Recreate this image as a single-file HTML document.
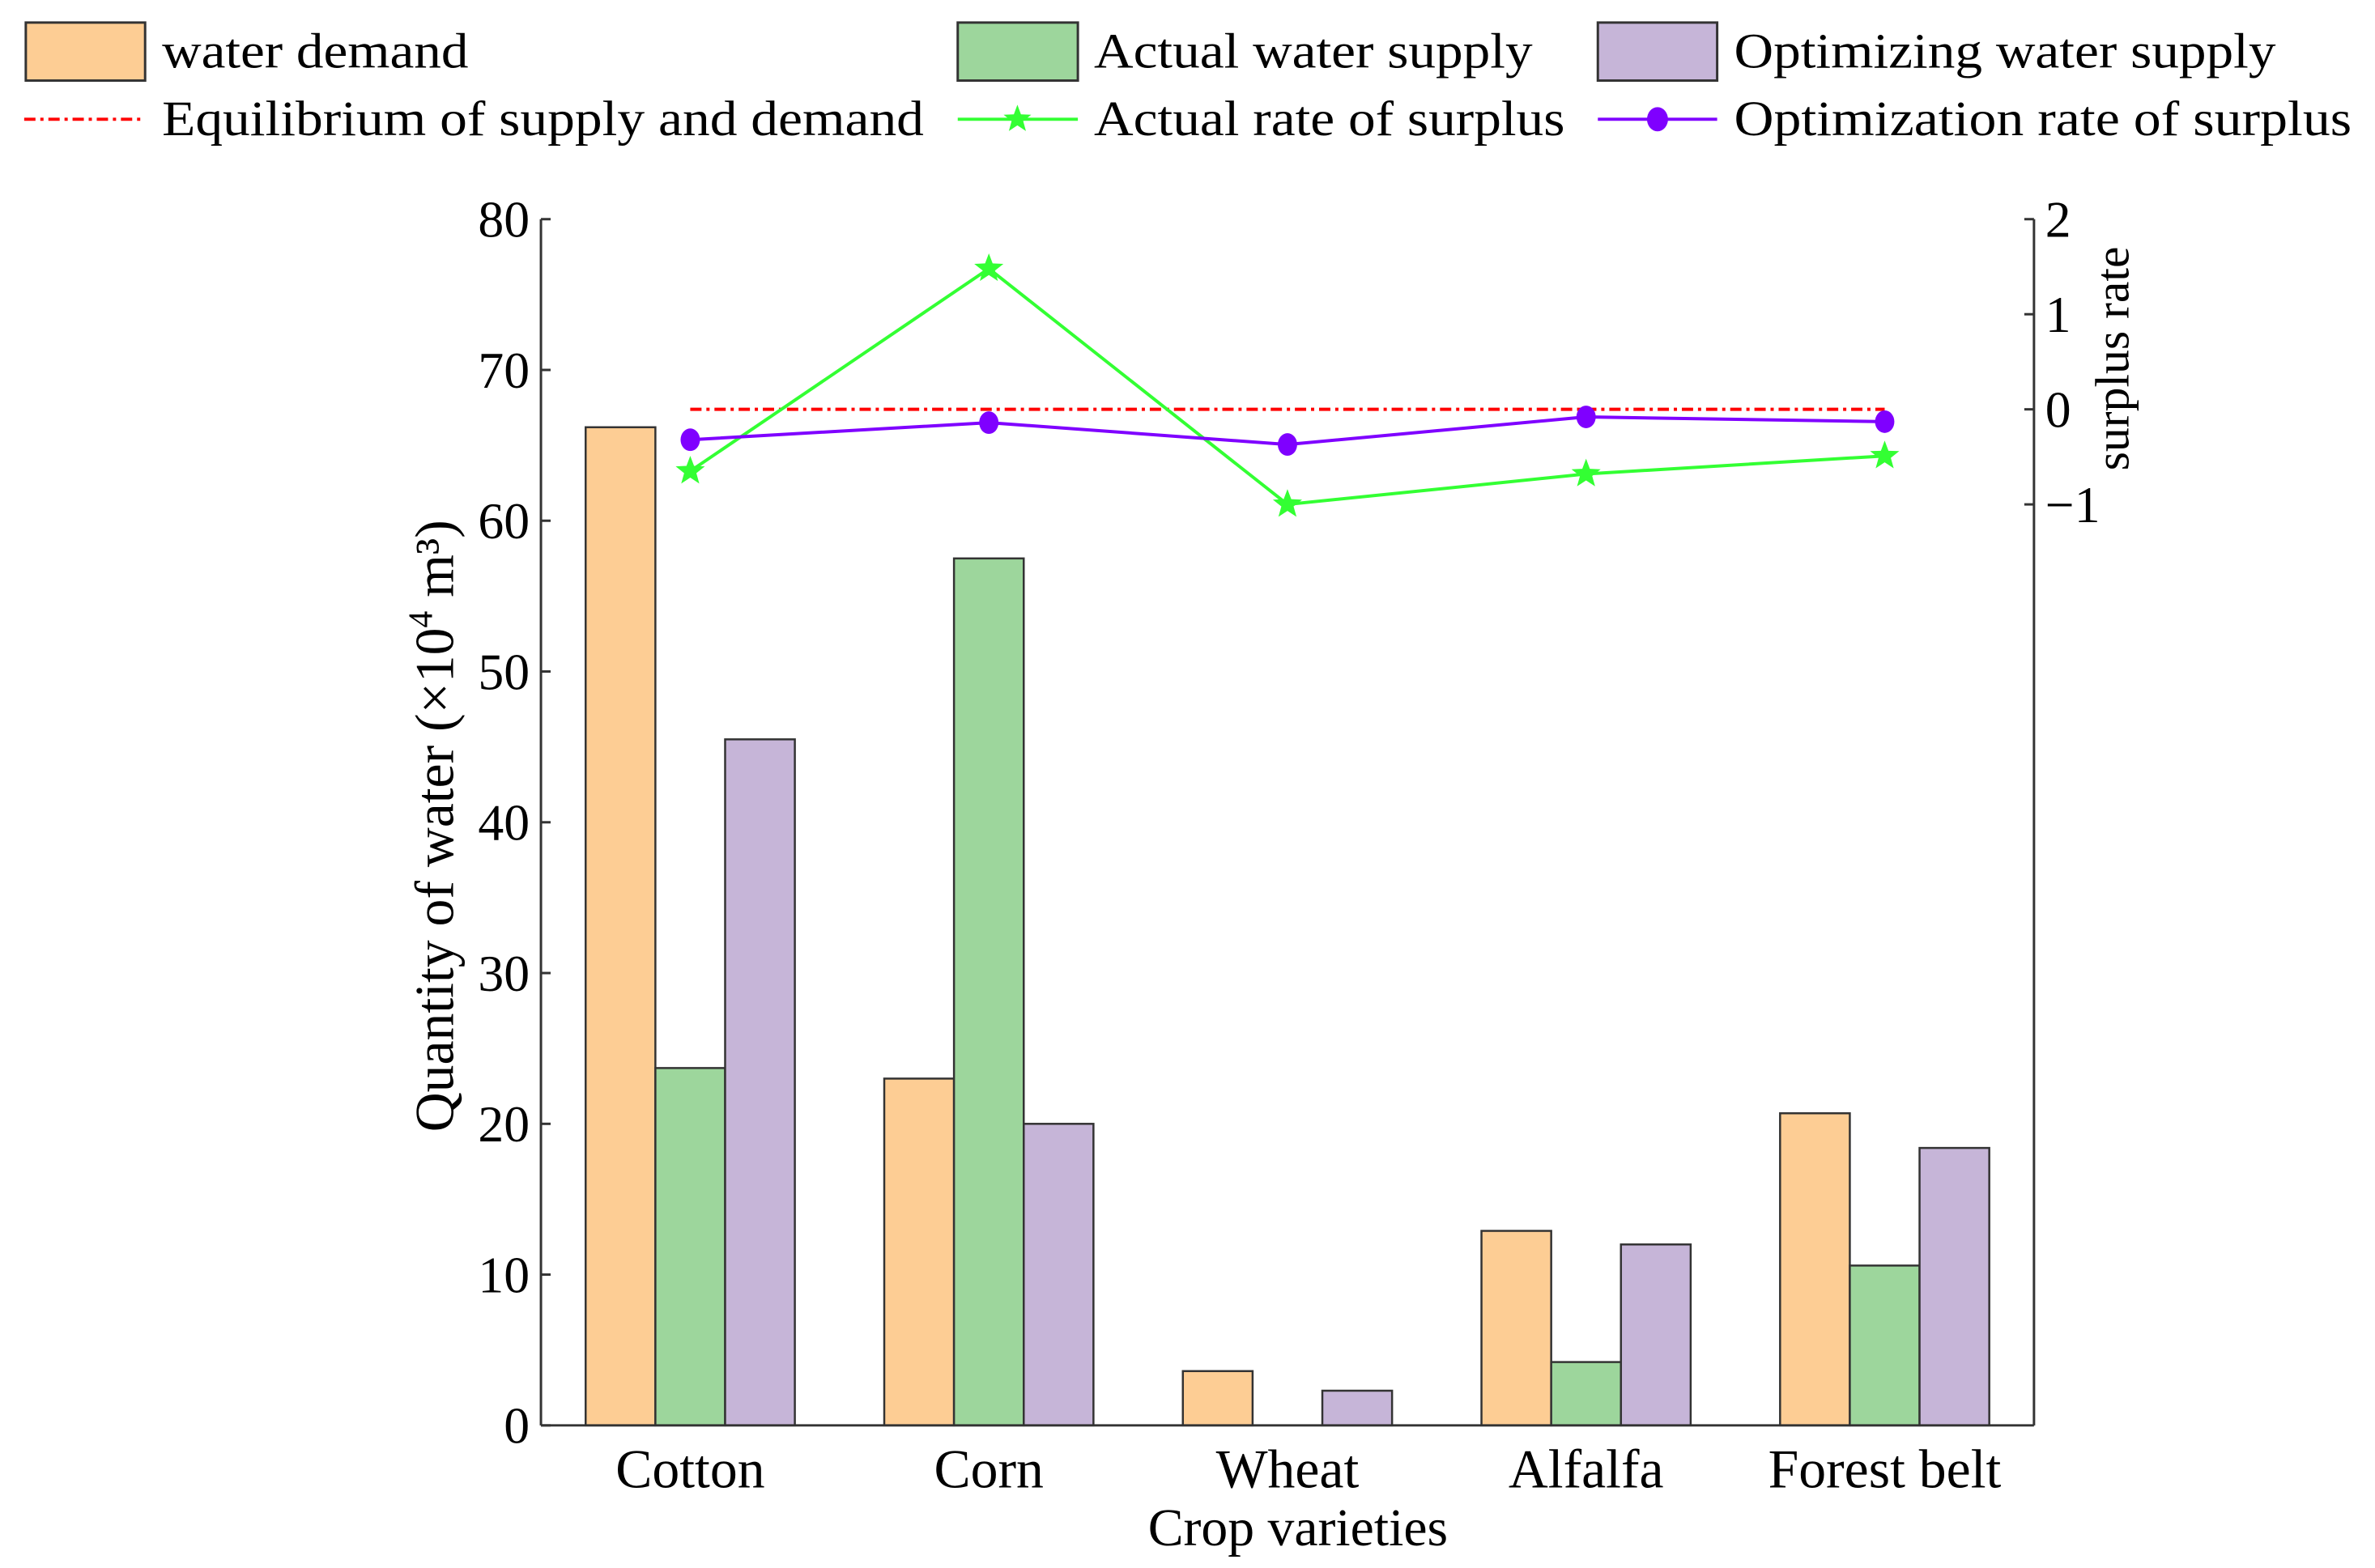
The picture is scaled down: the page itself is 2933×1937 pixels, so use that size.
<!DOCTYPE html>
<html><head><meta charset="utf-8"><style>
html,body{margin:0;padding:0;background:#fff;}
svg{display:block;font-family:"Liberation Serif",serif;}
</style></head><body>
<svg id="chart" width="2933" height="1937" viewBox="0 0 2946 1946" preserveAspectRatio="none" xmlns="http://www.w3.org/2000/svg">
<g id="legend">
  <g>
    <rect x="32" y="28" width="148" height="72" fill="#fdcd94" stroke="#333" stroke-width="3"/>
    <text x="201" y="84" font-size="62" textLength="380" lengthAdjust="spacingAndGlyphs">water demand</text>
  </g>
  <g>
    <rect x="1188" y="28" width="149" height="72" fill="#9dd69c" stroke="#333" stroke-width="3"/>
    <text x="1357" y="84" font-size="62" textLength="544" lengthAdjust="spacingAndGlyphs">Actual water supply</text>
  </g>
  <g>
    <rect x="1982" y="28" width="148" height="72" fill="#c6b5d8" stroke="#333" stroke-width="3"/>
    <text x="2151" y="84" font-size="62" textLength="672" lengthAdjust="spacingAndGlyphs">Optimizing water supply</text>
  </g>
  <g>
    <line x1="30" y1="148" x2="180" y2="148" stroke="#ff0000" stroke-width="4" stroke-dasharray="14,6,4,6"/>
    <text x="201" y="168" font-size="62" textLength="945" lengthAdjust="spacingAndGlyphs">Equilibrium of supply and demand</text>
  </g>
  <g>
    <line x1="1188" y1="148" x2="1337" y2="148" stroke="#33ff33" stroke-width="4"/>
    <polygon id="legstar" points="" fill="#33ff33"/>
    <text x="1357" y="168" font-size="62" textLength="584" lengthAdjust="spacingAndGlyphs">Actual rate of surplus</text>
  </g>
  <g>
    <line x1="1982" y1="148" x2="2130" y2="148" stroke="#7f00ff" stroke-width="4"/>
    <ellipse cx="2056" cy="148" rx="13" ry="15" fill="#7f00ff"/>
    <text x="2151" y="168" font-size="62" textLength="766" lengthAdjust="spacingAndGlyphs">Optimization rate of surplus</text>
  </g>
</g>
<g id="plot"></g>
<text transform="translate(562,1025) rotate(-90)" text-anchor="middle" font-size="68">Quantity of water (×10<tspan font-size="42" dy="-26">4</tspan><tspan dy="26"> m³)</tspan></text>
<text transform="translate(2640,445) rotate(-90)" text-anchor="middle" font-size="60">surplus rate</text>
<text x="1610" y="1918" text-anchor="middle" font-size="66">Crop varieties</text>
</svg>
<script>
const categories = ["Cotton","Corn","Wheat","Alfalfa","Forest belt"];
const waterDemand = [66.2, 23.0, 3.6, 12.9, 20.7];
const actualSupply = [23.7, 57.5, 0, 4.2, 10.6];
const optimizingSupply = [45.5, 20.0, 2.3, 12.0, 18.4];
const actualRate = [-0.65, 1.48, -1.0, -0.68, -0.49];
const optimizationRate = [-0.32, -0.14, -0.37, -0.08, -0.13];
const equilibrium = 0;
const leftTicks = [0,10,20,30,40,50,60,70,80];
const rightTicks = [-1,0,1,2];

const NS = "http://www.w3.org/2000/svg";
const X0 = 671, X1 = 2523, YT = 272, YB = 1769;
const yL = v => YB - (v/80)*(YB-YT);
const yR = v => YT + (2 - v)*118;
const band = (X1-X0)/categories.length;
const xC = i => X0 + band*(i+0.5);
const barW = 86.5;
const plot = document.getElementById('plot');
function mk(tag, attrs, parent){
  const e = document.createElementNS(NS, tag);
  for (const k in attrs) e.setAttribute(k, attrs[k]);
  (parent||plot).appendChild(e);
  return e;
}
function yB(v){ return YB - yL(v); }
function starPts(cx, cy, R){
  const r = R*0.42; let p = [];
  for (let k=0;k<10;k++){
    const a = -Math.PI/2 + k*Math.PI/5, rr = k%2?r:R;
    p.push((cx+rr*Math.cos(a)).toFixed(1)+","+(cy+rr*Math.sin(a)).toFixed(1));
  }
  return p.join(" ");
}
document.getElementById('legstar').setAttribute('points', starPts(1262,148,18));

const series = [[waterDemand,"#fdcd94","demand"],[actualSupply,"#9dd69c","actual"],[optimizingSupply,"#c6b5d8","optimizing"]];
series.forEach((s, j) => {
  s[0].forEach((v, i) => {
    const x = xC(i) + (j-1)*barW - barW/2;
    const r = mk('rect', {x:x, y:yL(v), width:barW, height:yB(v), fill:s[1], stroke:"#333", "stroke-width":2.5});
    
    
  });
});

const axL = mk('line', {x1:X0, y1:YT, x2:X0, y2:YB, stroke:"#333", "stroke-width":3});


const axR = mk('line', {x1:X1, y1:YT, x2:X1, y2:YB, stroke:"#333", "stroke-width":3});


const axB = mk('line', {x1:X0, y1:YB, x2:X1, y2:YB, stroke:"#333", "stroke-width":3});



leftTicks.forEach(t => {
  mk('line', {x1:X0, y1:yL(t), x2:X0+12, y2:yL(t), stroke:"#333", "stroke-width":3});
  const tx = mk('text', {x:X0-14, y:yL(t)+22, "text-anchor":"end", "font-size":64});
  tx.textContent = t;
  
  
});
rightTicks.forEach(t => {
  mk('line', {x1:X1, y1:yR(t), x2:X1-12, y2:yR(t), stroke:"#333", "stroke-width":3});
  const tx = mk('text', {x:X1+14, y:yR(t)+22, "font-size":64});
  tx.textContent = (t<0?"\u2212":"") + Math.abs(t);
  
  
});
categories.forEach((c, i) => {
  const tx = mk('text', {x:xC(i), y:1846, "text-anchor":"middle", "font-size":68});
  tx.textContent = c;
  
  
});

const eq = mk('line', {x1:xC(0), y1:yR(equilibrium), x2:xC(categories.length-1), y2:yR(equilibrium), stroke:"#ff0000", "stroke-width":4, "stroke-dasharray":"14,6,4,6"});



const la = mk('polyline', {points: actualRate.map((v,i)=>xC(i)+","+yR(v)).join(" "), fill:"none", stroke:"#33ff33", "stroke-width":4});


actualRate.forEach((v,i) => {
  const s = mk('polygon', {points: starPts(xC(i), yR(v), 19), fill:"#33ff33"});
  
  
});
const lo = mk('polyline', {points: optimizationRate.map((v,i)=>xC(i)+","+yR(v)).join(" "), fill:"none", stroke:"#7f00ff", "stroke-width":4});


optimizationRate.forEach((v,i) => {
  const d = mk('ellipse', {cx:xC(i), cy:yR(v), rx:12, ry:14, fill:"#7f00ff"});
  
  
});
</script>
</body></html>
